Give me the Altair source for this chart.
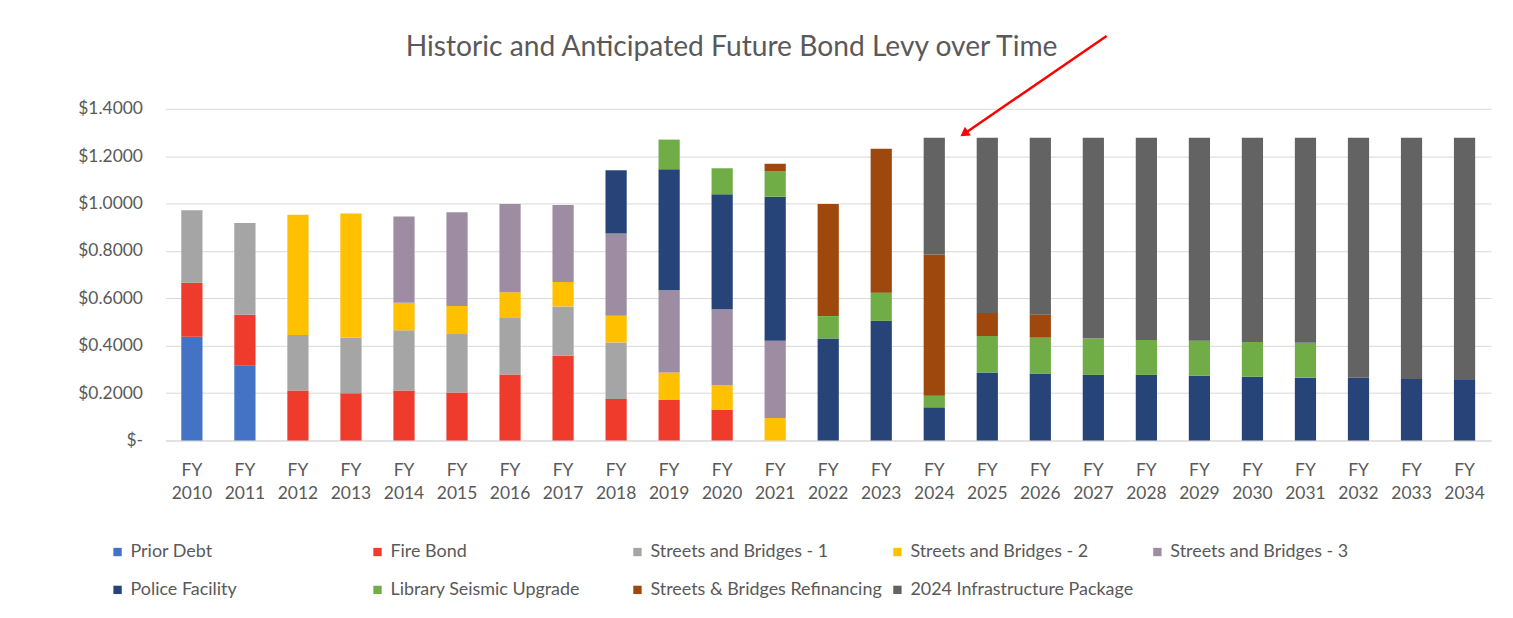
import altair as alt
import pandas as pd

years = [f"FY {y}" for y in range(2010, 2035)]

series_names = [
    "Prior Debt", "Fire Bond", "Streets and Bridges - 1", "Streets and Bridges - 2",
    "Streets and Bridges - 3", "Police Facility", "Library Seismic Upgrade",
    "Streets & Bridges Refinancing", "2024 Infrastructure Package",
]
series_colors = ["#4472C4", "#EE3B2C", "#A5A5A5", "#FFC000", "#9D8CA2",
                 "#264478", "#70AD47", "#9E480E", "#636363"]

#                2010  2011  2012  2013  2014  2015  2016  2017  2018  2019  2020  2021  2022  2023  2024  2025  2026  2027  2028  2029  2030  2031  2032  2033  2034
prior_debt   = [0.438, 0.318, 0, 0, 0, 0, 0, 0, 0, 0, 0, 0, 0, 0, 0, 0, 0, 0, 0, 0, 0, 0, 0, 0, 0]
fire_bond    = [0.228, 0.213, 0.211, 0.199, 0.211, 0.202, 0.279, 0.358, 0.175, 0.171, 0.130, 0, 0, 0, 0, 0, 0, 0, 0, 0, 0, 0, 0, 0, 0]
sb1          = [0.306, 0.387, 0.234, 0.235, 0.254, 0.247, 0.238, 0.208, 0.239, 0, 0, 0, 0, 0, 0, 0, 0, 0, 0, 0, 0, 0, 0, 0, 0]
sb2          = [0, 0, 0.508, 0.524, 0.116, 0.119, 0.109, 0.103, 0.112, 0.116, 0.104, 0.095, 0, 0, 0, 0, 0, 0, 0, 0, 0, 0, 0, 0, 0]
sb3          = [0, 0, 0, 0, 0.364, 0.395, 0.372, 0.325, 0.348, 0.347, 0.320, 0.326, 0, 0, 0, 0, 0, 0, 0, 0, 0, 0, 0, 0, 0]
police       = [0, 0, 0, 0, 0, 0, 0, 0, 0.267, 0.511, 0.485, 0.608, 0.430, 0.505, 0.140, 0.287, 0.283, 0.277, 0.277, 0.273, 0.269, 0.265, 0.265, 0.260, 0.255]
library      = [0, 0, 0, 0, 0, 0, 0, 0, 0, 0.125, 0.110, 0.108, 0.095, 0.119, 0.049, 0.154, 0.151, 0.153, 0.147, 0.148, 0.147, 0.147, 0, 0, 0]
refinancing  = [0, 0, 0, 0, 0, 0, 0, 0, 0, 0, 0, 0.031, 0.473, 0.607, 0.596, 0.097, 0.097, 0, 0, 0, 0, 0, 0, 0, 0]
infra_2024   = [0, 0, 0, 0, 0, 0, 0, 0, 0, 0, 0, 0, 0, 0, 0.493, 0.740, 0.747, 0.848, 0.854, 0.857, 0.862, 0.866, 1.013, 1.018, 1.023]

y_ticks = [0, 0.2, 0.4, 0.6, 0.8, 1.0, 1.2, 1.4]

all_series = [prior_debt, fire_bond, sb1, sb2, sb3, police, library, refinancing, infra_2024]
rows = []
for si, (name, vals) in enumerate(zip(series_names, all_series)):
    for yr, v in zip(years, vals):
        if v > 0:
            rows.append({"year": yr, "series": name, "order": si, "value": v})
df = pd.DataFrame(rows)

FONT = "Lato"

bars = alt.Chart(df).mark_bar().encode(
    x=alt.X("year:N", sort=years, title=None,
            scale=alt.Scale(paddingInner=0.6, paddingOuter=0.3),
            axis=alt.Axis(labelAngle=0, labelExpr="split(datum.label, ' ')",
                          labelLineHeight=23, labelPadding=21, ticks=False,
                          domain=True, domainColor="#D9D9D9", grid=False,
                          labelFontSize=17.5, labelColor="#595959", labelFont=FONT)),
    y=alt.Y("value:Q", stack="zero", title=None,
            scale=alt.Scale(domain=[0, 1.4], nice=False),
            axis=alt.Axis(values=y_ticks, ticks=False, tickSize=0, domain=False,
                          grid=True, gridColor="#D9D9D9", labelPadding=23,
                          labelExpr="datum.value == 0 ? '$-\u00a0' : '$' + format(datum.value, '.4f')",
                          labelFontSize=17.5, labelColor="#595959", labelFont=FONT)),
    color=alt.Color("series:N", scale=alt.Scale(domain=series_names, range=series_colors),
                    legend=alt.Legend(title=None, orient="none", legendX=-57, legendY=436,
                                      direction="horizontal", columns=5, gridAlign="all",
                                      columnPadding=6, rowPadding=20,
                                      symbolType="square", symbolSize=70, symbolStrokeWidth=0,
                                      labelFontSize=18, labelColor="#595959", labelFont=FONT,
                                      labelLimit=400, labelOffset=4)),
    order=alt.Order("order:Q", sort="ascending"),
)

arrow_df = pd.DataFrame({"a": [0]})
arrow_line = alt.Chart(arrow_df).mark_rule(color="#FF0000", strokeWidth=2.5, clip=False).encode(
    x=alt.value(945), y=alt.value(-73), x2=alt.value(805), y2=alt.value(23)
)
arrow_head = alt.Chart(arrow_df).mark_point(shape="triangle-up", filled=True, color="#FF0000",
                                            size=110, angle=235.6, opacity=1, clip=False).encode(
    x=alt.value(802), y=alt.value(25)
)

chart = alt.layer(bars, arrow_line, arrow_head).properties(
    width=1331, height=333,
    title=alt.TitleParams("Historic and Anticipated Future Bond Levy over Time",
                          fontSize=28.3, font=FONT, fontWeight="normal", color="#595959",
                          offset=-28, anchor="middle", dx=-97),
    autosize=alt.AutoSizeParams(type="none"),
    padding={"left": 158, "top": 100, "right": 14, "bottom": 170},
).configure(background="white").configure_view(strokeWidth=0, stroke="transparent")

chart.save("out.html", embed_options={"renderer": "svg", "actions": False})
